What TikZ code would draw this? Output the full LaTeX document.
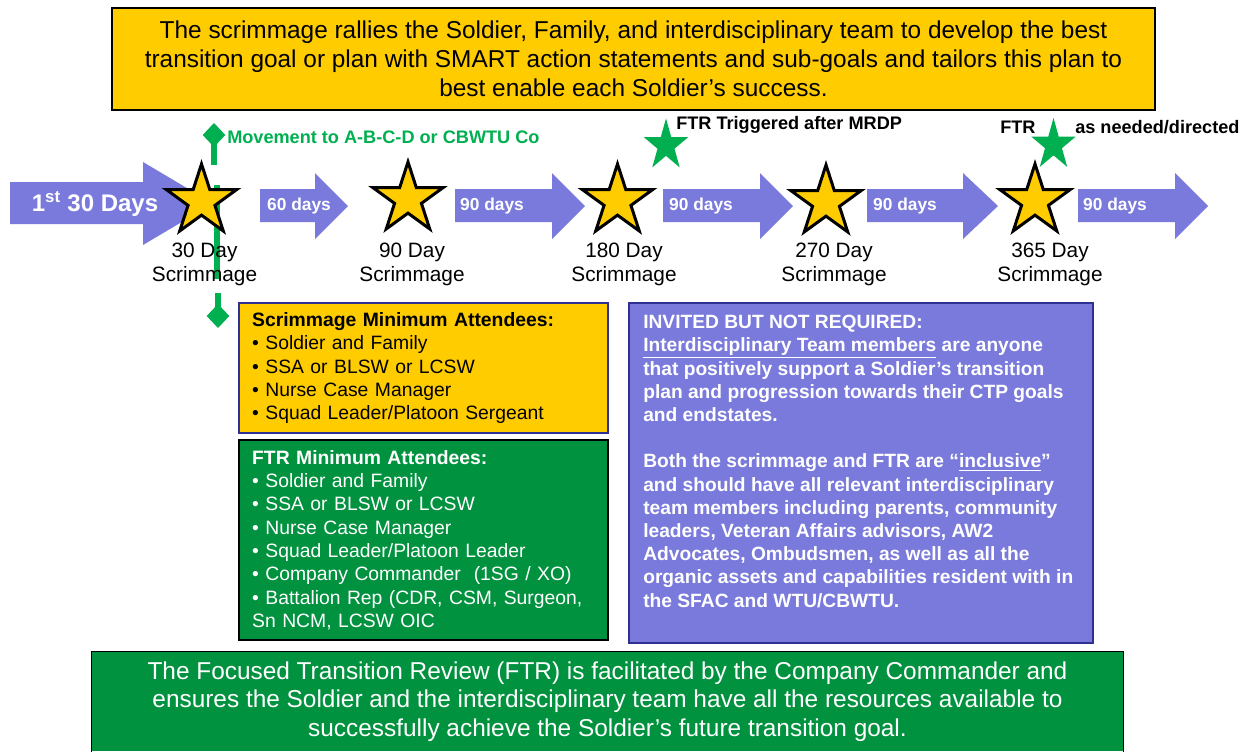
\documentclass[tikz,border=0pt]{standalone}
\usepackage{fontspec}
\setmainfont{Liberation Sans}
\usetikzlibrary{shapes.geometric,arrows.meta}
\definecolor{sy}{RGB}{255,204,0}
\definecolor{bp}{RGB}{122,122,220}
\definecolor{dg}{RGB}{0,146,63}
\definecolor{bg}{RGB}{0,176,80}
\definecolor{nv}{RGB}{46,49,146}
\newcommand\blockarrow[3]{\fill[barrow] (#1,189) -- (#2,189) -- (#2,173) -- (#3,206) -- (#2,239) -- (#2,222) -- (#1,222) -- cycle;}
\begin{document}
\begin{tikzpicture}[x=0.75pt,y=-0.75pt,
  ystar/.style={star, star points=5, star point ratio=2.618, draw=black, line width=2.25pt, fill=sy, minimum size=55.5pt, inner sep=0pt},
  gstar/.style={star, star points=5, star point ratio=2.618, fill=bg, minimum size=35pt, inner sep=0pt, yscale=1.16, transform shape},
  daylbl/.style={font=\fontsize{15.6}{18}\selectfont, align=center, inner sep=0pt},
  arrowlbl/.style={font=\fontsize{13}{15}\selectfont\bfseries, text=white, inner sep=0pt},
  barrow/.style={fill=bp},
  gline/.style={draw=bg, line width=4.5pt},
  gtip/.style={-{Diamond[length=18pt,width=17pt]}},
  note/.style={font=\fontsize{13.6}{16}\selectfont\bfseries, inner sep=0pt, anchor=west},
  listbox/.style={line width=1.1pt, text width=257pt, inner xsep=9.9pt, inner ysep=0pt, align=left, minimum width=276.75pt, font=\fontsize{14.5}{17.5}\selectfont},
  bigbox/.style={line width=1.1pt, draw=black, align=center, inner sep=0pt, font=\fontsize{18.3}{21.6}\selectfont}
]
\useasboundingbox (0,0) rectangle (1247,751);

% top and bottom boxes
\node[bigbox, fill=sy, minimum width=782.25pt, minimum height=76.5pt] (top) at (633.5,59)
 {The scrimmage rallies the Soldier, Family, and interdisciplinary team to develop the best\\
  transition goal or plan with SMART action statements and sub-goals and tailors this plan to\\
  best enable each Soldier’s success.};

\node[bigbox, draw=none, fill=dg, text=white, minimum width=773.25pt, minimum height=74.25pt] (bot) at (607.5,701.5)
 {The Focused Transition Review (FTR) is facilitated by the Company Commander and\\
  ensures the Soldier and the interdisciplinary team have all the resources available to\\
  successfully achieve the Soldier’s future transition goal.};
\draw[line width=1.1pt] (bot.south west) -- (bot.north west) -- (bot.north east) -- (bot.south east);

% green vertical line behind star
\coordinate (gA) at (214,165);
\coordinate (gTop) at (214,123);
\coordinate (gM1) at (217,185);
\coordinate (gM2) at (217,279);
\coordinate (gC) at (218,293);
\coordinate (gBot) at (218,328);
\draw[gline] (gM1) -- (gM2);

% blue arrows
\fill[barrow] (10,182) -- (143,182) -- (143,162) -- (213,203.5) -- (143,245) -- (143,224) -- (10,224) -- cycle;
\blockarrow{260}{315}{348}
\blockarrow{455}{552}{585}
\blockarrow{663}{760}{793}
\blockarrow{867}{963}{998}
\blockarrow{1078}{1175}{1208}

% green arrows
\draw[gline, gtip, fill=bg] (gA) -- (gTop);
\draw[gline, gtip, fill=bg] (gC) -- (gBot);

% stars
\node[ystar] (s30) at (201.5,201) {};
\node[ystar] (s90) at (408,199) {};
\node[ystar] (s180) at (617.5,201) {};
\node[ystar] (s270) at (826,202) {};
\node[ystar] (s365) at (1035,201) {};
\node[gstar] (g180) at (666,145.5) {};
\node[gstar] (g365) at (1053.5,145) {};

% arrow labels
\node[font=\fontsize{18}{20}\selectfont\bfseries, text=white, inner sep=0pt] (first) at (95,204) {1\textsuperscript{st} 30 Days};
\node[arrowlbl] (d60) at (299,206.5) {60 days};
\node[arrowlbl] (d90a) at (492,206.5) {90 days};
\node[arrowlbl] (d90b) at (701,206.5) {90 days};
\node[arrowlbl] (d90c) at (905,206.5) {90 days};
\node[arrowlbl] (d90d) at (1115,206.5) {90 days};

% star labels
\node[daylbl] (l30) at (204.5,264) {30 Day\\Scrimmage};
\node[daylbl] (l90) at (412,264) {90 Day\\Scrimmage};
\node[daylbl] (l180) at (624,264) {180 Day\\Scrimmage};
\node[daylbl] (l270) at (834,264) {270 Day\\Scrimmage};
\node[daylbl] (l365) at (1050,264) {365 Day\\Scrimmage};

% notes
\node[note, text=bg] (move) at (227,137) {Movement to A-B-C-D or CBWTU Co};
\node[note] (trig) at (676,125) {FTR Triggered after MRDP};
\node[note] (ftr) at (1000,127) {FTR};
\node[note] (need) at (1075,127) {as needed/directed};

% attendee boxes
\node[listbox, draw=nv, fill=sy, minimum height=97.5pt] (scr) at (423.5,368)
 {\textbf{Scrimmage Minimum Attendees:}\\
  •~Soldier and Family\\
  •~SSA or BLSW or LCSW\\
  •~Nurse Case Manager\\
  •~Squad Leader/Platoon Sergeant};
\node[listbox, draw=black, fill=dg, text=white, minimum height=150pt] (ftrbox) at (423.5,540)
 {\textbf{FTR Minimum Attendees:}\\
  •~Soldier and Family\\
  •~SSA or BLSW or LCSW\\
  •~Nurse Case Manager\\
  •~Squad Leader/Platoon Leader\\
  •~Company Commander~~(1SG / XO)\\
  •~Battalion Rep (CDR, CSM, Surgeon,\\
  Sn NCM, LCSW OIC};

% invited box
\node[draw=nv, line width=1.1pt, fill=bp, minimum width=348pt, minimum height=255pt, inner sep=0pt] (inv) at (861,473) {};
\node[anchor=north west, inner sep=0pt, text=white, align=left, font=\fontsize{14.4}{17.4}\selectfont\bfseries] (invtxt) at (643,315)
 {INVITED BUT NOT REQUIRED:\\
  \underline{Interdisciplinary Team members} are anyone\\
  that positively support a Soldier’s transition\\
  plan and progression towards their CTP goals\\
  and endstates.\\[17.4pt]
  Both the scrimmage and FTR are “\underline{inclusive}”\\
  and should have all relevant interdisciplinary\\
  team members including parents, community\\
  leaders, Veteran Affairs advisors, AW2\\
  Advocates, Ombudsmen, as well as all the\\
  organic assets and capabilities resident with in\\
  the SFAC and WTU/CBWTU.};
\end{tikzpicture}
\end{document}
